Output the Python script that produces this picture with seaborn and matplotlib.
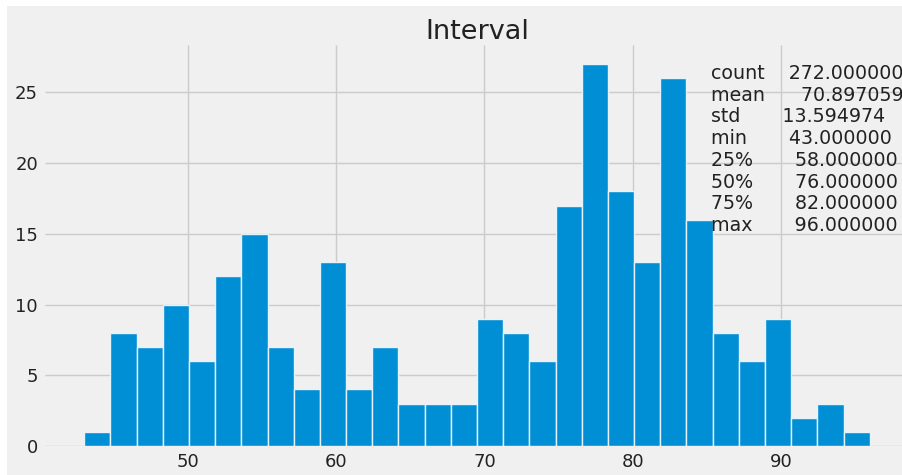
import numpy as np
import pandas as pd
import matplotlib
matplotlib.use("Agg")
import matplotlib.pyplot as plt
from matplotlib.patches import Rectangle
import seaborn as sns

# Histogram of eruption intervals (minutes), 30 equal-width bins
bin_range = (43, 96)
counts = [1, 8, 7, 10, 6, 12, 15, 7, 4, 13, 4, 7, 3, 3, 3,
          9, 8, 6, 17, 27, 18, 13, 26, 16, 8, 6, 9, 2, 3, 1]

# Summary statistics shown beside the histogram
stat_names = ["count", "mean", "std", "min", "25%", "50%", "75%", "max"]
stat_values = [272.0, 70.897059, 13.594974, 43.0, 58.0, 76.0, 82.0, 96.0]

title = "Interval"

plt.style.use("fivethirtyeight")
sns.set_style(rc={"axes.facecolor": "#f0f0f0", "figure.facecolor": "#f0f0f0",
                  "grid.color": "#cbcbcb", "axes.edgecolor": "#f0f0f0"})
plt.rcParams["font.family"] = ["DejaVu Sans"]

W, H = 902, 475
fig = plt.figure(figsize=(W / 100, H / 100), dpi=100, facecolor="#f0f0f0")
ax = fig.add_axes([45 / W, (H - 446) / H, (909 - 45) / W, (446 - 45) / H])
ax.set_facecolor("#f0f0f0")

nbins = len(counts)
width = (bin_range[1] - bin_range[0]) / nbins
centers = bin_range[0] + width * (np.arange(nbins) + 0.5)
df = pd.DataFrame({"interval": centers, "n": counts})

sns.histplot(data=df, x="interval", weights="n", bins=nbins, binrange=bin_range,
             ax=ax, color="#008fd5", alpha=1.0, edgecolor="#e6f2fa", linewidth=1.0)

ax.set_xlim(40.35, 98.65)
ax.set_ylim(0, 28.35)
ax.set_xticks([50, 60, 70, 80, 90])
ax.set_yticks([0, 5, 10, 15, 20, 25])
ax.set_xlabel("")
ax.set_ylabel("")
ax.grid(True, color="#cbcbcb", linewidth=1.0)
ax.set_axisbelow(True)
for s in ax.spines.values():
    s.set_visible(False)
ax.tick_params(axis="both", labelsize=13, length=0, pad=5, labelcolor="#222222")
ax.set_title(title, fontsize=19.5, pad=4, color="#222222")

summary = pd.Series(stat_values, index=stat_names).to_string()
ax.text(85.3, 27.0, summary, fontsize=13.7, va="top", ha="left",
        linespacing=1.18, color="#222222")

# thin white border strips along the top and left edges
fig.patches.append(Rectangle((0, 1 - 6 / H), 1, 6 / H, transform=fig.transFigure,
                             facecolor="white", edgecolor="none", zorder=-1))
fig.patches.append(Rectangle((0, 0), 7 / W, 1, transform=fig.transFigure,
                             facecolor="white", edgecolor="none", zorder=-1))

fig.savefig("out.png", dpi=100, facecolor=fig.get_facecolor())
